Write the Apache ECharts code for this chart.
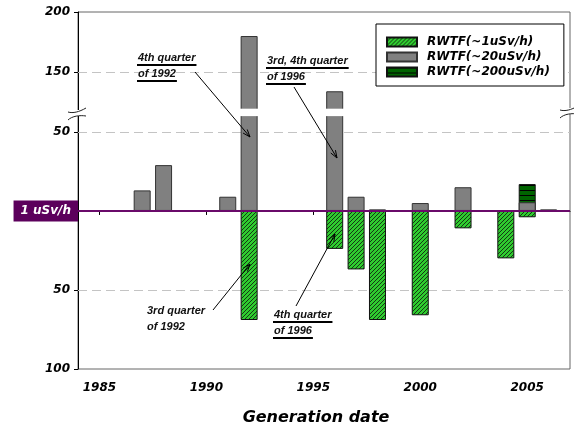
<!DOCTYPE html>
<html><head><meta charset="utf-8">
<script src="https://cdn.jsdelivr.net/npm/echarts@6/dist/echarts.min.js"></script>
<style>html,body{margin:0;padding:0;background:#fff}#c{width:574px;height:427px}</style>
</head><body><div id="c"></div>
<script>
// ---- data ----
const years1 = [1992, 1996, 1997, 1998, 2000, 2002, 2004, 2005];
const values1 = [69, 24, 37, 69, 66, 11, 30, 4];           // RWTF(~1uSv/h), drawn downward
const years20 = [1987, 1988, 1991, 1992, 1996, 1997, 1998, 2000, 2002, 2005, 2006];
const values20 = [13, 29, 9, 180, 134, 9, 1, 5, 15, 5.5, 1]; // RWTF(~20uSv/h), upward
const years200 = [2005];
const values200 = [11.5];                                    // RWTF(~200uSv/h), stacked on ~20uSv/h
const xTicks = [1985, 1990, 1995, 2000, 2005];
const yTickRaw = [-100, -50, 50, 150, 200];
const yTickLabels = ['100', '50', '50', '150', '200'];
const gridRaw = [150, 50, -50];
const seriesNames = ['RWTF(~1uSv/h)', 'RWTF(~20uSv/h)', 'RWTF(~200uSv/h)'];

// ---- broken axis transform ----
const LIN_MAX = 60, GAP = 4.7, UP_MIN_RAW = 119.5, UP_SLOPE = 0.76;
function toAxis(v) { return v <= LIN_MAX ? v : LIN_MAX + GAP + (v - UP_MIN_RAW) * UP_SLOPE; }
const yDisp = yTickRaw.map(toAxis);
function yLabel(v) { for (let i = 0; i < yDisp.length; i++) if (Math.abs(yDisp[i] - v) < 1e-6) return yTickLabels[i]; return ''; }
function base20(y) { const i = years20.indexOf(y); return i >= 0 ? values20[i] : 0; }

function pattern(w, h, draw) { const c = document.createElement('canvas'); c.width = w; c.height = h; draw(c.getContext('2d')); return { image: c, repeat: 'repeat' }; }
const hatch = pattern(4, 4, g => {
  g.fillStyle = '#2fcc2f'; g.fillRect(0, 0, 4, 4);
  g.strokeStyle = '#143814'; g.lineWidth = 1;
  g.beginPath(); g.moveTo(-1, 5); g.lineTo(5, -1); g.stroke();
  g.beginPath(); g.moveTo(-1, 1); g.lineTo(1, -1); g.moveTo(3, 5); g.lineTo(5, 3); g.stroke();
});
const stripes = pattern(4, 5, g => {
  g.fillStyle = '#006400'; g.fillRect(0, 0, 4, 5);
  g.fillStyle = '#000'; g.fillRect(0, 0, 4, 1);
});

const AX_FONT = 'DejaVu Sans';
const gapAreas = years20.filter((y, i) => values20[i] > LIN_MAX)
  .map(y => [{ xAxis: y - 0.5, yAxis: LIN_MAX }, { xAxis: y + 0.5, yAxis: LIN_MAX + GAP }]);

const chart = echarts.init(document.getElementById('c'), null, { renderer: 'canvas' });
const option = {
  animation: false,
  grid: { left: 78, right: 4, top: 12, bottom: 58, show: true, borderColor: '#666', borderWidth: 1 },
  legend: {
    left: 376, top: 24, orient: 'vertical', icon: 'rect', itemWidth: 30, itemHeight: 9, itemGap: 1,
    padding: [11, 14, 7, 10], backgroundColor: '#fff', borderColor: '#000', borderWidth: 1,
    textStyle: { fontFamily: AX_FONT, fontStyle: 'italic', fontWeight: 'bold', fontSize: 12, color: '#000', lineHeight: 14, padding: [0, 0, 0, 5] },
    data: seriesNames
  },
  xAxis: {
    type: 'value', min: 1984, max: 2007,
    axisLine: { show: true, lineStyle: { color: '#000', width: 1 } },
    axisTick: { show: true, length: 4, customValues: xTicks, lineStyle: { color: '#000' } },
    axisLabel: { customValues: xTicks, formatter: v => String(v), margin: 13, fontFamily: AX_FONT, fontStyle: 'italic', fontWeight: 'bold', fontSize: 12, color: '#000' },
    splitLine: { show: false }
  },
  yAxis: {
    type: 'value', min: -100, max: toAxis(200),
    axisLine: { show: true, lineStyle: { color: '#000', width: 1 } },
    axisTick: { show: true, length: 4, customValues: yDisp, lineStyle: { color: '#000' } },
    axisLabel: { customValues: yDisp, formatter: yLabel, margin: 8, fontFamily: AX_FONT, fontStyle: 'italic', fontWeight: 'bold', fontSize: 12, color: '#000' },
    splitLine: { show: false }
  },
  series: [
    {
      name: seriesNames[2], type: 'bar', barWidth: 17, barGap: '-100%', z: 2,
      data: years200.map((y, i) => [y, toAxis(base20(y) + values200[i])]),
      itemStyle: { color: stripes, borderColor: '#111', borderWidth: 1 },
      markArea: { silent: true, z: 10, itemStyle: { color: '#fff' }, data: gapAreas }
    },
    {
      name: seriesNames[0], type: 'bar', barWidth: 17, barGap: '-100%', z: 2,
      data: years1.map((y, i) => [y, -values1[i]]),
      itemStyle: { color: hatch, borderColor: '#111', borderWidth: 1 },
      markLine: {
        silent: true, symbol: 'none', z: 6,
        lineStyle: { color: '#6a0a6a', width: 2, type: 'solid' },
        label: { show: true, position: 'start', distance: 0, formatter: '1 uSv/h', color: '#fff', backgroundColor: '#5c005c',
          padding: [5, 7, 4, 7], fontFamily: AX_FONT, fontStyle: 'italic', fontWeight: 'bold', fontSize: 12 },
        data: [{ yAxis: 0 }]
      }
    },
    {
      name: seriesNames[1], type: 'bar', barWidth: 17, barGap: '-100%', z: 2,
      data: years20.map((y, i) => [y, toAxis(values20[i])]),
      itemStyle: { color: '#808080', borderColor: '#333', borderWidth: 1 },
      markLine: {
        silent: true, symbol: 'none', z: 1,
        lineStyle: { color: '#c4c4c4', width: 1, type: [9, 5] },
        label: { show: false },
        data: gridRaw.map(v => ({ yAxis: toAxis(v) }))
      }
    }
  ]
};
chart.setOption(option);

// ---- annotations ----
const ANN_FONT = 'italic bold 11px "Liberation Sans"';
const mctx = document.createElement('canvas').getContext('2d'); mctx.font = ANN_FONT;
const g = [];
function ann(x, y, lines, underline) {
  lines.forEach((t, i) => {
    const yy = y + i * 16;
    g.push({ type: 'text', x: x, y: yy, z: 20, style: { text: t, font: ANN_FONT, fill: '#111', align: 'left', verticalAlign: 'middle' } });
    if (underline) {
      const w = mctx.measureText(t).width;
      g.push({ type: 'rect', z: 20, shape: { x: x - 1, y: yy + 6, width: w + 2, height: 2 }, style: { fill: '#000' } });
    }
  });
}
function arrow(x1, y1, x2, y2) {
  g.push({ type: 'line', z: 20, shape: { x1, y1, x2, y2 }, style: { stroke: '#000', lineWidth: 1 } });
  const a = Math.atan2(y2 - y1, x2 - x1), L = 8, s = 0.35;
  g.push({ type: 'polyline', z: 20, shape: { points: [[x2 - L * Math.cos(a - s), y2 - L * Math.sin(a - s)], [x2, y2], [x2 - L * Math.cos(a + s), y2 - L * Math.sin(a + s)]] }, style: { stroke: '#000', lineWidth: 1, fill: null } });
}
ann(138, 58, ['4th quarter', 'of 1992'], true);
ann(267, 61, ['3rd, 4th quarter', 'of 1996'], true);
ann(147, 311, ['3rd quarter', 'of 1992'], false);
ann(274, 315, ['4th quarter', 'of 1996'], true);
arrow(195, 72, 250, 137);
arrow(294, 87, 337, 158);
arrow(213, 310, 250, 264);
arrow(296, 306, 335, 234);
// axis break marks (cut the frame line, then draw the curved ends)
function brk(cx, y) {
  g.push({ type: 'rect', z: 19, shape: { x: cx - 3, y: y, width: 6, height: 6 }, style: { fill: '#fff' } });
  g.push({ type: 'bezierCurve', z: 20, shape: { x1: cx - 10, y1: y + 2, cpx1: cx - 5, cpy1: y + 3.5, cpx2: cx + 1, cpy2: y + 2, x2: cx + 8, y2: y - 2 }, style: { stroke: '#222', lineWidth: 1, fill: null } });
  g.push({ type: 'bezierCurve', z: 20, shape: { x1: cx - 10, y1: y + 10, cpx1: cx - 6, cpy1: y + 6, cpx2: cx + 2, cpy2: y + 5, x2: cx + 8, y2: y + 6 }, style: { stroke: '#222', lineWidth: 1, fill: null } });
}
brk(78, 110);
brk(570, 108);
// axis name
g.push({ type: 'text', x: 316, y: 418, style: { text: 'Generation date', font: 'italic bold 16px "DejaVu Sans"', fill: '#000', align: 'center', verticalAlign: 'middle' } });
chart.setOption({ graphic: g });
</script></body></html>
